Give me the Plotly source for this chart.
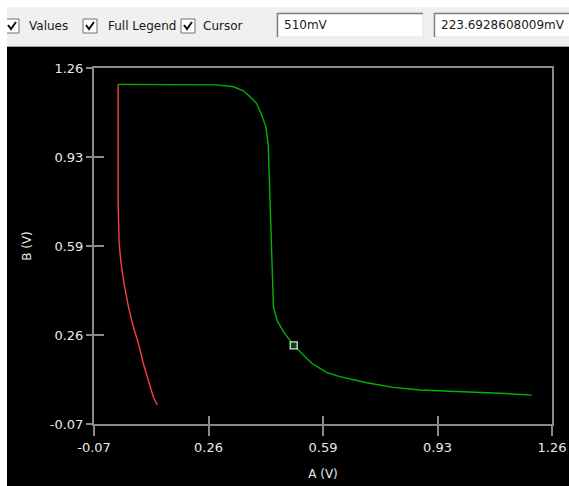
import plotly.graph_objects as go

# ---------------- data ----------------
red_a = [0.0, 0.0, 0.003, 0.008, 0.017, 0.030, 0.044, 0.059, 0.073, 0.088, 0.102, 0.114]
red_b = [1.199, 0.755, 0.605, 0.536, 0.456, 0.368, 0.294, 0.231, 0.157, 0.088, 0.032, 0.001]

green_a = [0.0, 0.238, 0.286, 0.335, 0.364, 0.383, 0.402, 0.417, 0.429, 0.436, 0.439,
           0.442, 0.444, 0.448, 0.451, 0.461, 0.480, 0.510, 0.528, 0.562, 0.606, 0.644,
           0.722, 0.799, 0.877, 0.954, 1.031, 1.109, 1.201]
green_b = [1.199, 1.199, 1.197, 1.190, 1.175, 1.153, 1.128, 1.084, 1.041, 0.972, 0.860,
           0.767, 0.667, 0.474, 0.368, 0.319, 0.275, 0.2237, 0.200, 0.157, 0.122, 0.107,
           0.084, 0.067, 0.057, 0.053, 0.050, 0.045, 0.038]

cursor_a = 0.510
cursor_b = 0.2236928608009

axis_min = -0.07
axis_max = 1.26
tick_labels = ["-0.07", "0.26", "0.59", "0.93", "1.26"]
tick_vals = [axis_min + i * (axis_max - axis_min) / 4 for i in range(5)]

toolbar_labels = ["Values", "Full Legend", "Cursor"]
cursor_a_text = f"{cursor_a * 1000:.0f}mV"
cursor_b_text = "223.6928608009mV"

# ---------------- layout geometry ----------------
W, H = 569, 486
ML, MR, MT, MB = 94, 17, 68, 62
PW, PH = W - ML - MR, H - MT - MB


def fx(px):
    return (px - ML) / PW


def fy(py):
    return (H - MB - py) / PH


FONT = "DejaVu Sans"
LINE_GREY = "#8a8a8a"
TXT = "#e8e8e8"

fig = go.Figure()
fig.add_trace(go.Scatter(x=red_a, y=red_b, mode="lines",
                         line=dict(color="#ff3c3c", width=1.4),
                         showlegend=False, hoverinfo="skip"))
fig.add_trace(go.Scatter(x=green_a, y=green_b, mode="lines",
                         line=dict(color="#00b400", width=1.4),
                         showlegend=False, hoverinfo="skip"))
fig.add_trace(go.Scatter(x=[cursor_a], y=[cursor_b], mode="markers",
                         marker=dict(symbol="square", size=7, color="#004d00",
                                     line=dict(color="#e0e0e0", width=1.3)),
                         showlegend=False, hoverinfo="skip"))
# empty trace to activate overlay axes (inside ticks)
fig.add_trace(go.Scatter(x=[], y=[], xaxis="x2", yaxis="y2", showlegend=False))

shapes = []
# grey toolbar
shapes.append(dict(type="rect", xref="paper", yref="paper", x0=fx(0), x1=fx(W), y0=fy(7), y1=fy(46),
                   fillcolor="#f0f0f0", line=dict(width=0), layer="above"))
shapes.append(dict(type="line", xref="paper", yref="paper", x0=fx(0), x1=fx(W), y0=fy(46.5), y1=fy(46.5),
                   line=dict(color="#a0a0a0", width=1), layer="above"))
# black chart panel
shapes.append(dict(type="rect", xref="paper", yref="paper", x0=fx(7), x1=fx(W + 2), y0=fy(47), y1=fy(H + 2),
                   fillcolor="#000000", line=dict(width=0), layer="below"))

# checkboxes
box_lefts = [5, 83, 181]
text_lefts = [27, 106, 201]
for bx in box_lefts:
    shapes.append(dict(type="rect", xref="paper", yref="paper", x0=fx(bx), x1=fx(bx + 14),
                       y0=fy(19), y1=fy(33), fillcolor="#ffffff",
                       line=dict(color="#6e6e6e", width=1), layer="above"))
    shapes.append(dict(type="path", xref="paper", yref="paper",
                       path=f"M {fx(bx + 3)} {fy(25)} L {fx(bx + 6)} {fy(29)} L {fx(bx + 11)} {fy(22)}",
                       line=dict(color="#111111", width=2), layer="above"))

# text boxes
for x0, x1 in [(277, 423), (434, 590)]:
    shapes.append(dict(type="rect", xref="paper", yref="paper", x0=fx(x0), x1=fx(x1),
                       y0=fy(13), y1=fy(37), fillcolor="#ffffff",
                       line=dict(color="#e3e3e3", width=1), layer="above"))
    shapes.append(dict(type="path", xref="paper", yref="paper",
                       path=f"M {fx(x0 + 0.5)} {fy(37)} L {fx(x0 + 0.5)} {fy(13.5)} L {fx(x1)} {fy(13.5)}",
                       line=dict(color="#808080", width=1.5), layer="above"))

# white left strip
shapes.append(dict(type="rect", xref="paper", yref="paper", x0=fx(-2), x1=fx(7), y0=fy(-2), y1=fy(H + 2),
                   fillcolor="#ffffff", line=dict(width=0), layer="above"))

annotations = []
for lbl, tx in zip(toolbar_labels, text_lefts):
    annotations.append(dict(text=lbl, x=fx(tx), y=fy(26), xref="paper", yref="paper",
                            xanchor="left", yanchor="middle", showarrow=False,
                            font=dict(family=FONT, size=12, color="#1a1a1a")))
for lbl, tx in [(cursor_a_text, 282), (cursor_b_text, 439)]:
    annotations.append(dict(text=lbl, x=fx(tx), y=fy(25.5), xref="paper", yref="paper",
                            xanchor="left", yanchor="middle", showarrow=False,
                            font=dict(family=FONT, size=12, color="#1a1a1a")))

common_axis = dict(range=[axis_min, axis_max], tickvals=tick_vals, ticktext=tick_labels,
                   showgrid=False, zeroline=False, fixedrange=True, automargin=False)

fig.update_layout(
    width=W, height=H, autosize=False,
    margin=dict(l=ML, r=MR, t=MT, b=MB, pad=0, autoexpand=False),
    paper_bgcolor="#ffffff", plot_bgcolor="#000000",
    font=dict(family=FONT, size=12, color=TXT),
    xaxis=dict(**common_axis, showline=True, linecolor=LINE_GREY, linewidth=2, mirror=True,
               ticks="outside", ticklen=10, tickwidth=1.5, tickcolor=LINE_GREY,
               tickfont=dict(family=FONT, size=13, color=TXT),
               title=dict(text="A (V)", font=dict(family=FONT, size=12, color=TXT), standoff=16)),
    yaxis=dict(**common_axis, showline=True, linecolor=LINE_GREY, linewidth=2, mirror=True,
               ticks="outside", ticklen=6, tickwidth=1.5, tickcolor=LINE_GREY,
               tickfont=dict(family=FONT, size=13, color=TXT),
               title=dict(text="B (V)", font=dict(family=FONT, size=12, color=TXT), standoff=16)),
    xaxis2=dict(**common_axis, overlaying="x", anchor="y2", side="bottom", showline=False,
                ticks="inside", ticklen=8, tickwidth=1.5, tickcolor=LINE_GREY, showticklabels=False),
    yaxis2=dict(**common_axis, overlaying="y", anchor="x2", side="left", showline=False,
                ticks="inside", ticklen=10, tickwidth=1.5, tickcolor=LINE_GREY, showticklabels=False),
    shapes=shapes,
    annotations=annotations,
)

fig.write_html("out.html")
